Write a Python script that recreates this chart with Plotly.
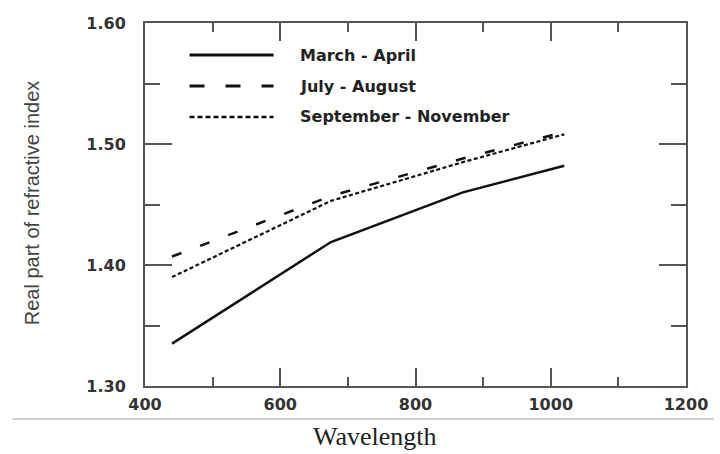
import plotly.graph_objects as go

# Data
wavelength = [440, 675, 870, 1020]
march_april = [1.335, 1.419, 1.460, 1.482]
july_august = [1.407, 1.457, 1.488, 1.510]
sept_nov = [1.390, 1.453, 1.485, 1.508]
series_names = ["March - April", "July - August", "September - November"]
x_ticks = [400, 600, 800, 1000, 1200]
y_ticks = [1.30, 1.40, 1.50, 1.60]

dashes = ["solid", "10px,20px", "4px,2.5px"]
widths = [2.5, 2.5, 2.2]
series = [march_april, july_august, sept_nov]

fig = go.Figure()
for name, vals, d, w in zip(series_names, series, dashes, widths):
    fig.add_trace(go.Scatter(x=wavelength, y=vals, mode="lines", name=name,
                             line=dict(color="#111111", width=w, dash=d),
                             showlegend=False))

W, H = 720, 454
L, R, T, B = 145, 28, 23, 68
pw, ph = W - L - R, H - T - B

def px(xp):
    return (xp - L) / pw

def py(yp):
    return (H - B - yp) / ph

# manual legend
leg_rows = [55, 86, 117]
leg_dashes = ["solid", "15px,21px", "5px,3px"]
for name, d, w, yr in zip(series_names, leg_dashes, widths, leg_rows):
    fig.add_shape(type="line", xref="paper", yref="paper",
                  x0=px(190), x1=px(275), y0=py(yr), y1=py(yr),
                  line=dict(color="#111111", width=w + 0.5, dash=d))
    fig.add_annotation(text=name, xref="paper", yref="paper", x=px(300), y=py(yr),
                       xanchor="left", yanchor="middle", showarrow=False,
                       font=dict(family="DejaVu Sans", size=16, color="#222222", weight="bold"))

# separator line below the axis
fig.add_shape(type="line", xref="paper", yref="paper",
              x0=px(11), x1=px(720), y0=py(419), y1=py(419),
              line=dict(color="#d0d0d0", width=2))

fig.add_annotation(text="Wavelength", xref="paper", yref="paper", x=px(378), y=py(436),
                   xanchor="center", yanchor="middle", showarrow=False,
                   font=dict(family="Liberation Serif", size=26, color="#222222"))
fig.add_annotation(text="Real part of refractive index", xref="paper", yref="paper",
                   x=px(31), y=py(203), textangle=-90, xanchor="center", yanchor="middle",
                   showarrow=False,
                   font=dict(family="Liberation Sans", size=20, color="#444444"))

axis_common = dict(showgrid=False, zeroline=False, showline=True, linecolor="#555555",
                   linewidth=2, mirror="ticks", ticks="inside", tickcolor="#555555",
                   tickwidth=1.5,
                   tickfont=dict(family="DejaVu Sans", size=16, color="#333333", weight="bold"))

fig.update_xaxes(range=[400, 1200], tickvals=x_ticks, ticklen=18,
                 minor=dict(dtick=100, ticks="inside", ticklen=9, tickcolor="#555555", tickwidth=1.5),
                 ticklabelstandoff=3, **axis_common)
fig.update_yaxes(range=[1.30, 1.60], tickvals=y_ticks, tickformat=".2f", ticklen=27,
                 minor=dict(dtick=0.05, ticks="inside", ticklen=15, tickcolor="#555555", tickwidth=1.5),
                 ticklabelstandoff=14, **axis_common)

fig.update_layout(width=W, height=H, margin=dict(l=L, r=R, t=T, b=B, pad=0),
                  plot_bgcolor="white", paper_bgcolor="white")

fig.write_html("out.html")
